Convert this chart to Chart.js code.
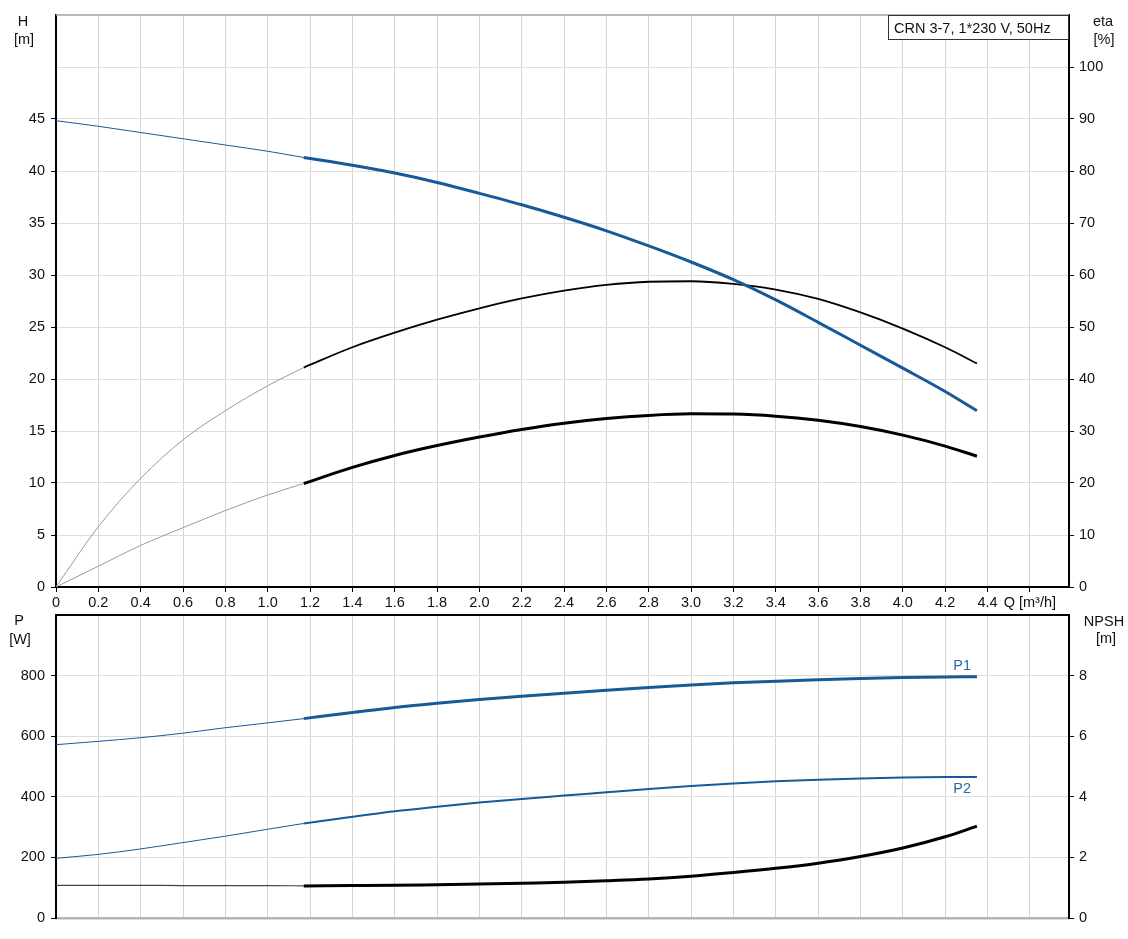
<!DOCTYPE html>
<html>
<head>
<meta charset="utf-8">
<script src="https://cdn.jsdelivr.net/npm/chart.js@4.4.1/dist/chart.umd.min.js"></script>
<style>
  body { margin: 0; background: #fff; }
  #top { position: absolute; left: 0; top: 0; width: 1128px; height: 611px; }
  #bottom { position: absolute; left: 0; top: 611px; width: 1128px; height: 328px; }
</style>
</head>
<body>
<div id="top"><canvas id="headChart"></canvas></div>
<div id="bottom"><canvas id="powerChart"></canvas></div>
<script>
// flow points: thin part (outside the recommended range) and thick part
const qThin = [0, 0.2, 0.4, 0.6, 0.8, 1.0, 1.17];
const qThick = [1.17, 1.4, 1.6, 1.8, 2.0, 2.2, 2.4, 2.6, 2.8, 3.0, 3.2, 3.4, 3.6, 3.8, 4.0, 4.2, 4.35];

// head H [m]
const headThin = [44.84, 44.3, 43.7, 43.1, 42.5, 41.9, 41.3];
const headThick = [41.3, 40.55, 39.8, 38.9, 37.85, 36.75, 35.55, 34.25, 32.8, 31.25, 29.55, 27.6, 25.45, 23.25, 21.05, 18.8, 16.95];

// pump efficiency eta [%]
const etaThin = [0, 11.6, 20.9, 28.3, 33.9, 38.7, 42.2];
const etaThick = [42.2, 46.1, 48.9, 51.4, 53.6, 55.5, 57.0, 58.1, 58.7, 58.8, 58.3, 57.2, 55.4, 52.8, 49.7, 46.1, 43.0];

// total efficiency eta [%]
const etaTotThin = [0, 4.0, 8.0, 11.4, 14.7, 17.7, 19.9];
const etaTotThick = [19.9, 23.0, 25.3, 27.2, 28.85, 30.3, 31.5, 32.4, 33.0, 33.3, 33.25, 32.85, 32.05, 30.85, 29.2, 27.1, 25.15];

// power P1 / P2 [W]
const p1Thin = [572, 583, 595, 610, 628, 644, 658];
const p1Thick = [658, 678, 695, 709, 721, 732, 742, 752, 761, 769, 776, 781.5, 786.5, 790.5, 793.5, 795.5, 796];
const p2Thin = [197, 210, 228, 249, 270, 293, 312];
const p2Thick = [312, 334, 352, 367, 381, 393, 404, 415, 426, 436, 444, 451, 456.5, 460.5, 463.5, 465, 465.5];

// NPSH [m]
const npshThin = [1.08, 1.08, 1.08, 1.07, 1.07, 1.07, 1.06];
const npshThick = [1.06, 1.07, 1.08, 1.10, 1.12, 1.15, 1.18, 1.23, 1.29, 1.38, 1.50, 1.64, 1.81, 2.03, 2.31, 2.68, 3.03];

// axis ticks
const qTicks = [0, 0.2, 0.4, 0.6, 0.8, 1.0, 1.2, 1.4, 1.6, 1.8, 2.0, 2.2, 2.4, 2.6, 2.8, 3.0, 3.2, 3.4, 3.6, 3.8, 4.0, 4.2, 4.4, 4.6];
const qTickLabels = ['0', '0.2', '0.4', '0.6', '0.8', '1.0', '1.2', '1.4', '1.6', '1.8', '2.0', '2.2', '2.4', '2.6', '2.8', '3.0', '3.2', '3.4', '3.6', '3.8', '4.0', '4.2', '4.4', 'Q [m³/h]'];
const headTicks = [0, 5, 10, 15, 20, 25, 30, 35, 40, 45, 50];
const headTickLabels = ['0', '5', '10', '15', '20', '25', '30', '35', '40', '45'];
const etaTicks = [0, 10, 20, 30, 40, 50, 60, 70, 80, 90, 100];
const powerTicks = [0, 200, 400, 600, 800];
const npshTicks = [0, 2, 4, 6, 8];

const BLUE = '#165a97';
const FONT = '14.5px Arial, "Liberation Sans", sans-serif';
Chart.defaults.font.family = 'Arial, "Liberation Sans", sans-serif';
Chart.defaults.font.size = 14.5;
Chart.defaults.color = '#111';

function curve(qs, vs, color, width, axis) {
    return {
        data: qs.map((q, i) => ({ x: q, y: vs[i] })),
        borderColor: color,
        borderWidth: width,
        yAxisID: axis,
        pointRadius: 0,
        fill: false,
        cubicInterpolationMode: 'monotone'
    };
}

function setTicks(values) {
    return scale => { scale.ticks = values.map(v => ({ value: v })); };
}

function fixWidth(w) {
    return scale => {
        scale.width = w;
        scale.paddingTop = 0;
        scale.paddingBottom = 0;
    };
}

// frame line on top of plot area and axis titles
const frameText = {
    id: 'frameText',
    afterDraw(chart, args, opts) {
        const ctx = chart.ctx;
        const a = chart.chartArea;
        ctx.save();
        ctx.strokeStyle = opts.topColor;
        ctx.lineWidth = opts.topWidth;
        ctx.beginPath();
        ctx.moveTo(a.left, a.top);
        ctx.lineTo(a.right, a.top);
        ctx.stroke();

        ctx.font = FONT;
        ctx.fillStyle = '#111';
        ctx.textAlign = 'center';
        ctx.textBaseline = 'middle';
        opts.titles.forEach(t => ctx.fillText(t.text, t.x, t.y));

        if (opts.box) {
            const b = opts.box;
            ctx.fillStyle = '#fff';
            ctx.fillRect(b.x, b.y, b.w, b.h);
            ctx.strokeStyle = '#333';
            ctx.lineWidth = 1;
            ctx.strokeRect(b.x + 0.5, b.y + 0.5, b.w - 1, b.h - 1);
            ctx.fillStyle = '#111';
            ctx.textAlign = 'left';
            ctx.fillText(b.text, b.x + 6, b.y + b.h / 2 + 1);
        }

        if (opts.curveLabels) {
            const xs = chart.scales.x, ys = chart.scales.y;
            ctx.fillStyle = '#2a69a8';
            ctx.textAlign = 'center';
            opts.curveLabels.forEach(l => {
                ctx.fillText(l.text, xs.getPixelForValue(l.q), ys.getPixelForValue(l.v) + l.dy);
            });
        }
        ctx.restore();
    }
};

const commonX = {
    type: 'linear',
    min: 0,
    max: 4.785,
    afterBuildTicks: setTicks(qTicks)
};

// Head / efficiency chart
new Chart(document.getElementById('headChart'), {
    type: 'line',
    data: {
        datasets: [
            curve(qThin, headThin, BLUE, 1, 'y'),
            curve(qThick, headThick, BLUE, 3, 'y'),
            curve(qThin, etaThin, '#9a9a9a', 1, 'y1'),
            curve(qThick, etaThick, '#000', 1.8, 'y1'),
            curve(qThin, etaTotThin, '#9a9a9a', 1, 'y1'),
            curve(qThick, etaTotThick, '#000', 3, 'y1')
        ]
    },
    options: {
        responsive: true,
        maintainAspectRatio: false,
        animation: false,
        layout: { padding: { top: 15 } },
        plugins: {
            legend: { display: false },
            tooltip: { enabled: false },
            frameText: {
                topColor: '#a0a0a0',
                topWidth: 1.5,
                titles: [
                    { text: 'H', x: 23, y: 22 },
                    { text: '[m]', x: 24, y: 40 },
                    { text: 'eta', x: 1103, y: 22 },
                    { text: '[%]', x: 1104, y: 40 }
                ],
                box: { x: 888, y: 15, w: 181, h: 25, text: 'CRN 3-7, 1*230 V, 50Hz' }
            }
        },
        scales: {
            x: {
                ...commonX,
                ticks: { callback: (v, i) => qTickLabels[i], autoSkip: false, maxRotation: 0, padding: 2 },
                grid: { color: '#d4d4d4', tickColor: '#000', tickLength: 5 },
                border: { color: '#000', width: 2 },
                afterFit: s => { s.height = 24; }
            },
            y: {
                position: 'left',
                min: 0,
                max: 55,
                afterBuildTicks: setTicks(headTicks),
                ticks: { callback: (v, i) => headTickLabels[i] || '', padding: 6 },
                grid: {
                    color: '#dddddd',
                    tickLength: 5,
                    tickColor: c => (c.tick && c.tick.value > 45 ? 'rgba(0,0,0,0)' : '#000')
                },
                border: { color: '#000', width: 2 },
                afterFit: fixWidth(56)
            },
            y1: {
                position: 'right',
                min: 0,
                max: 110,
                afterBuildTicks: setTicks(etaTicks),
                ticks: { padding: 5 },
                grid: { drawOnChartArea: false, tickColor: '#000', tickLength: 5 },
                border: { color: '#000', width: 2 },
                afterFit: fixWidth(59)
            }
        }
    },
    plugins: [frameText]
});

// Power / NPSH chart
new Chart(document.getElementById('powerChart'), {
    type: 'line',
    data: {
        datasets: [
            curve(qThin, p1Thin, BLUE, 1, 'y'),
            curve(qThick, p1Thick, BLUE, 3, 'y'),
            curve(qThin, p2Thin, BLUE, 1, 'y'),
            curve(qThick, p2Thick, BLUE, 2, 'y'),
            curve(qThin, npshThin, '#444', 1.2, 'y1'),
            curve(qThick, npshThick, '#000', 3, 'y1')
        ]
    },
    options: {
        responsive: true,
        maintainAspectRatio: false,
        animation: false,
        layout: { padding: { top: 4 } },
        plugins: {
            legend: { display: false },
            tooltip: { enabled: false },
            frameText: {
                topColor: '#000',
                topWidth: 2,
                titles: [
                    { text: 'P', x: 19, y: 10 },
                    { text: '[W]', x: 20, y: 29 },
                    { text: 'NPSH', x: 1104, y: 11 },
                    { text: '[m]', x: 1106, y: 28 }
                ],
                curveLabels: [
                    { text: 'P1', q: 4.28, v: p1Thick[p1Thick.length - 1], dy: -11 },
                    { text: 'P2', q: 4.28, v: p2Thick[p2Thick.length - 1], dy: 12 }
                ]
            }
        },
        scales: {
            x: {
                ...commonX,
                ticks: { display: false },
                grid: { color: '#d4d4d4', drawTicks: false },
                border: { color: '#b5b5b5', width: 2.5 },
                afterFit: s => { s.height = 21; }
            },
            y: {
                position: 'left',
                min: 0,
                max: 1000,
                afterBuildTicks: setTicks(powerTicks),
                ticks: { padding: 6 },
                grid: { color: '#dddddd', tickColor: '#000', tickLength: 5 },
                border: { color: '#000', width: 2 },
                afterFit: fixWidth(56)
            },
            y1: {
                position: 'right',
                min: 0,
                max: 10,
                afterBuildTicks: setTicks(npshTicks),
                ticks: { padding: 5 },
                grid: { drawOnChartArea: false, tickColor: '#000', tickLength: 5 },
                border: { color: '#000', width: 2 },
                afterFit: fixWidth(59)
            }
        }
    },
    plugins: [frameText]
});
</script>
</body>
</html>
